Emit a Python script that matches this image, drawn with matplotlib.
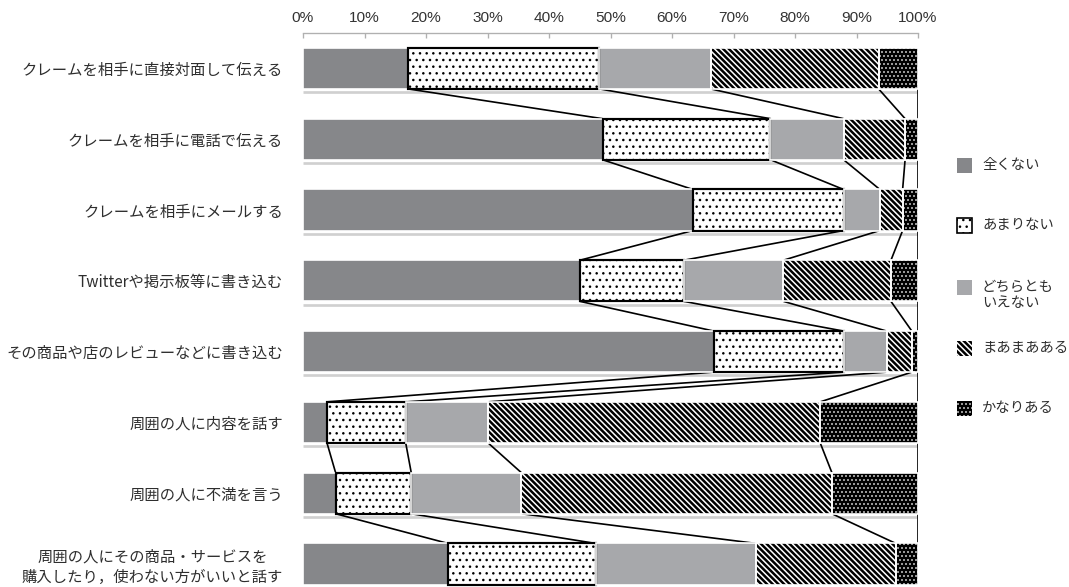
import numpy as np
import matplotlib
matplotlib.use('Agg')
import matplotlib.pyplot as plt
from matplotlib.patches import Rectangle

plt.rcParams['font.family'] = ['Noto Sans CJK JP', 'DejaVu Sans']

items = ['クレームを相手に直接対面して伝える', 'クレームを相手に電話で伝える', 'クレームを相手にメールする',
         'Twitterや掲示板等に書き込む', 'その商品や店のレビューなどに書き込む', '周囲の人に内容を話す',
         '周囲の人に不満を言う', '周囲の人にその商品・サービスを\n購入したり，使わない方がいいと話す']
answers = ['全くない', 'あまりない', 'どちらとも\nいえない', 'まあまあある', 'かなりある']

zen_kunai = [17.1, 48.7, 63.4, 45.0, 66.8, 3.9, 5.3, 23.6]
amari_nai = [31.1, 27.3, 24.5, 16.9, 21.1, 12.8, 12.3, 24.0]
dochira = [18.1, 11.9, 5.9, 16.2, 7.0, 13.4, 17.9, 26.1]
maamaa = [27.3, 10.0, 3.7, 17.5, 4.1, 54.0, 50.5, 22.7]
kanari = [6.4, 2.1, 2.5, 4.4, 1.0, 15.9, 14.0, 3.6]

series = [zen_kunai, amari_nai, dochira, maamaa, kanari]

# face, hatch colour, hatch, border colour, border width, hatch linewidth
styles = [
    ('#86878a', '#86878a', None, 'white', 1.0, 1.0),
    ('white', 'black', '.' * 3, 'black', 1.3, 0.7),
    ('#a7a8ab', '#a7a8ab', None, 'white', 1.0, 1.0),
    ('white', 'black', '\\' * 7, 'white', 1.0, 1.5),
    ('black', 'white', '.' * 5, 'white', 1.0, 0.5),
]

W, H = 1069, 587
fig = plt.figure(figsize=(W / 120, H / 120), dpi=120)
ax = fig.add_axes([303 / W, (H - 599.4) / H, 615 / W, 566.4 / H])

y = np.arange(len(items))
h = 0.58
left = np.zeros(len(items))
ends = []
for vals, (face, hc, hatch, bc, bw, hlw) in zip(series, styles):
    vals = np.array(vals)
    with plt.rc_context({'hatch.linewidth': hlw}):
        bars = ax.barh(y, vals, left=left, height=h, color=face, edgecolor=hc,
                       linewidth=0, hatch=hatch, zorder=3)
    for b in bars:
        if hasattr(b, 'set_hatch_linewidth'):
            b.set_hatch_linewidth(hlw)
    ax.barh(y, vals, left=left, height=h, fill=False, edgecolor=bc,
            linewidth=bw, zorder=4)
    left = left + vals
    ends.append(left.copy())

# shadow under each bar
ax.hlines(y + h / 2 + 0.045, 0, 100, color='#d0d0d0', lw=1.6, zorder=1)

# series lines
for e in ends:
    for i in range(len(items) - 1):
        ax.plot([e[i], e[i + 1]], [i + h / 2, i + 1 - h / 2], color='black',
                lw=1.0, zorder=2, solid_capstyle='butt')

ax.set_xlim(0, 100)
ax.set_ylim(len(items) - 0.5, -0.5)
ax.xaxis.tick_top()
ax.set_xticks(np.arange(0, 101, 10))
ax.set_xticklabels([f'{v}%' for v in range(0, 101, 10)], family='Liberation Sans',
                   fontsize=9.2, color='#333333')
ax.tick_params(axis='x', direction='in', length=3, color='#b0b0b0', pad=5)
ax.set_yticks(y)
ax.set_yticklabels(items, fontsize=9.2, color='#2e2e2e')
ax.tick_params(axis='y', length=0, pad=12)
ax.get_yticklabels()[-1].set_multialignment('center')
for s in ['left', 'right', 'bottom']:
    ax.spines[s].set_visible(False)
ax.spines['top'].set_color('#b0b0b0')

# legend
leg_y = [166, 226, 288, 349, 409]
for (face, hc, hatch, bc, bw, hlw), lab, ly in zip(styles, answers, leg_y):
    with plt.rc_context({'hatch.linewidth': hlw}):
        r = Rectangle((957 / W, 1 - (ly + 7) / H), 15 / W, 15 / H, transform=fig.transFigure,
                      facecolor=face, edgecolor=hc, linewidth=0, hatch=hatch)
    if hasattr(r, 'set_hatch_linewidth'):
        r.set_hatch_linewidth(hlw)
    fig.add_artist(r)
    if bc == 'black':
        fig.add_artist(Rectangle((957 / W, 1 - (ly + 7) / H), 15 / W, 15 / H,
                                 transform=fig.transFigure, fill=False,
                                 edgecolor='black', linewidth=1.0))
    fig.text(982 / W, 1 - (ly - 8) / H, lab, fontsize=8.6, color='#2e2e2e',
             va='top', ha='left', linespacing=1.2)

fig.savefig('out.png', dpi=120)
